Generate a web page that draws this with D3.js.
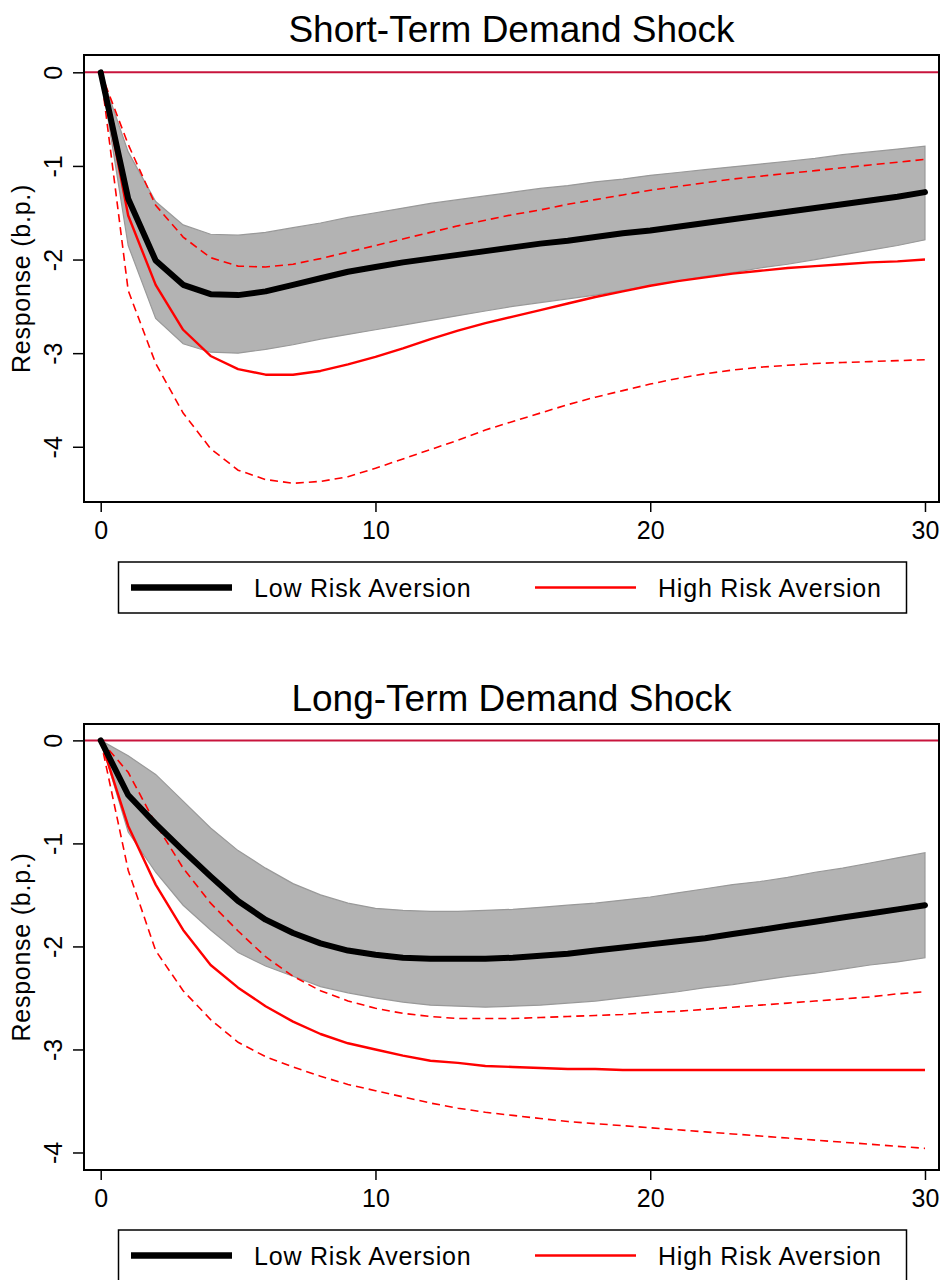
<!DOCTYPE html>
<html>
<head>
<meta charset="utf-8">
<script src="https://cdn.jsdelivr.net/npm/d3@7"></script>
<style>
  body { margin: 0; background: #fff; }
  text { font-family: "Liberation Sans", Arial, Helvetica, sans-serif; }
</style>
</head>
<body>
<svg></svg>
<script>
// horizon (months after shock)
let horizon = [0,1,2,3,4,5,6,7,8,9,10,11,12,13,14,15,16,17,18,19,20,21,22,23,24,25,26,27,28,29,30];

// short-term demand shock
let stLow     = [0,-1.35,-2.01,-2.27,-2.37,-2.38,-2.34,-2.27,-2.20,-2.13,-2.08,-2.03,-1.99,-1.95,-1.91,-1.87,-1.83,-1.80,-1.76,-1.72,-1.69,-1.65,-1.61,-1.57,-1.53,-1.49,-1.45,-1.41,-1.37,-1.33,-1.28];
let stLowUp   = [0,-0.85,-1.38,-1.63,-1.73,-1.74,-1.71,-1.66,-1.61,-1.55,-1.50,-1.45,-1.40,-1.36,-1.32,-1.28,-1.24,-1.21,-1.17,-1.14,-1.10,-1.07,-1.04,-1.01,-0.98,-0.95,-0.92,-0.88,-0.85,-0.82,-0.79];
let stLowLo   = [0,-1.85,-2.63,-2.90,-2.99,-3.00,-2.96,-2.91,-2.85,-2.80,-2.75,-2.70,-2.65,-2.60,-2.55,-2.50,-2.46,-2.42,-2.38,-2.33,-2.28,-2.23,-2.18,-2.14,-2.09,-2.05,-2.00,-1.95,-1.90,-1.85,-1.79];
let stHigh    = [0,-1.53,-2.27,-2.75,-3.03,-3.17,-3.23,-3.23,-3.19,-3.12,-3.04,-2.95,-2.85,-2.76,-2.68,-2.61,-2.54,-2.47,-2.40,-2.34,-2.28,-2.23,-2.19,-2.15,-2.12,-2.09,-2.07,-2.05,-2.03,-2.02,-2.00];
let stHighUp  = [0,-0.77,-1.42,-1.76,-1.98,-2.07,-2.08,-2.05,-1.99,-1.92,-1.85,-1.78,-1.71,-1.64,-1.58,-1.52,-1.47,-1.41,-1.36,-1.31,-1.26,-1.22,-1.18,-1.14,-1.11,-1.08,-1.05,-1.02,-0.99,-0.96,-0.93];
let stHighLo  = [0,-2.33,-3.11,-3.64,-4.02,-4.25,-4.35,-4.39,-4.37,-4.32,-4.23,-4.13,-4.03,-3.93,-3.82,-3.73,-3.64,-3.55,-3.47,-3.40,-3.33,-3.27,-3.22,-3.18,-3.15,-3.13,-3.11,-3.10,-3.09,-3.08,-3.07];

// long-term demand shock
let ltLow     = [0,-0.53,-0.81,-1.07,-1.32,-1.56,-1.74,-1.87,-1.97,-2.04,-2.08,-2.11,-2.12,-2.12,-2.12,-2.11,-2.09,-2.07,-2.04,-2.01,-1.98,-1.95,-1.92,-1.88,-1.84,-1.80,-1.76,-1.72,-1.68,-1.64,-1.60];
let ltLowUp   = [0,-0.15,-0.33,-0.59,-0.85,-1.07,-1.24,-1.39,-1.50,-1.58,-1.63,-1.65,-1.66,-1.66,-1.65,-1.64,-1.62,-1.60,-1.58,-1.55,-1.52,-1.48,-1.44,-1.40,-1.37,-1.33,-1.28,-1.24,-1.19,-1.14,-1.09];
let ltLowLo   = [0,-0.89,-1.28,-1.60,-1.84,-2.06,-2.19,-2.29,-2.39,-2.45,-2.50,-2.54,-2.57,-2.58,-2.59,-2.58,-2.57,-2.55,-2.53,-2.50,-2.47,-2.44,-2.40,-2.37,-2.33,-2.29,-2.26,-2.22,-2.18,-2.15,-2.11];
let ltHigh    = [0,-0.83,-1.40,-1.84,-2.18,-2.40,-2.58,-2.73,-2.85,-2.94,-3.00,-3.06,-3.11,-3.13,-3.16,-3.17,-3.18,-3.19,-3.19,-3.20,-3.20,-3.20,-3.20,-3.20,-3.20,-3.20,-3.20,-3.20,-3.20,-3.20,-3.20];
let ltHighUp  = [0,-0.31,-0.81,-1.24,-1.58,-1.85,-2.10,-2.29,-2.43,-2.53,-2.60,-2.65,-2.68,-2.70,-2.70,-2.70,-2.69,-2.68,-2.67,-2.66,-2.64,-2.63,-2.61,-2.59,-2.57,-2.55,-2.53,-2.51,-2.49,-2.46,-2.44];
let ltHighLo  = [0,-1.26,-2.04,-2.43,-2.71,-2.93,-3.07,-3.17,-3.26,-3.34,-3.40,-3.46,-3.52,-3.57,-3.61,-3.64,-3.67,-3.70,-3.72,-3.74,-3.76,-3.78,-3.80,-3.82,-3.84,-3.86,-3.88,-3.90,-3.92,-3.94,-3.96];

let xTicks = [0, 10, 20, 30];
let yTicks = [0, -1, -2, -3, -4];
let titles = ["Short-Term Demand Shock", "Long-Term Demand Shock"];
let yLabel = "Response (b.p.)";
let legendLabels = ["Low Risk Aversion", "High Risk Aversion"];

let width = 943;
let height = 1280;
let left = 84;
let right = 939;

let svg = d3.select("svg").attr("width", width).attr("height", height);

let xScale = d3.scaleLinear().domain([-0.608, 30.51]).range([left, right]);

let drawPanel = (p) => {
    let yScale = d3.scaleLinear().domain(p.yDomain).range([p.bottom, p.top]);
    let g = svg.append("g");

    let pts = (arr) => horizon.map((t, i) => [t, arr[i]]);
    let line = d3.line().x(d => xScale(d[0])).y(d => yScale(d[1]));
    let area = d3.area()
        .x(d => xScale(d[0]))
        .y0(d => yScale(d[1]))
        .y1(d => yScale(d[2]));

    // title
    g.append("text")
        .attr("x", (left + right) / 2)
        .attr("y", p.top - 13.3)
        .attr("text-anchor", "middle")
        .style("font-size", "37px")
        .text(p.title);

    // zero line
    g.append("line")
        .attr("x1", left).attr("x2", right)
        .attr("y1", yScale(0)).attr("y2", yScale(0))
        .attr("stroke", "#c8143c")
        .attr("stroke-width", 2);

    // confidence band (low risk aversion)
    g.append("path")
        .datum(horizon.map((t, i) => [t, p.lowLo[i], p.lowUp[i]]))
        .attr("d", area)
        .attr("fill", "#b3b3b3")
        .attr("stroke", "#999999")
        .attr("stroke-width", 1.2);

    // high risk aversion bands
    [p.highUp, p.highLo].forEach((arr) => {
        g.append("path")
            .datum(pts(arr))
            .attr("d", line)
            .attr("fill", "none")
            .attr("stroke", "#ff0000")
            .attr("stroke-width", 1.6)
            .attr("stroke-dasharray", "8,5");
    });

    g.append("path")
        .datum(pts(p.high))
        .attr("d", line)
        .attr("fill", "none")
        .attr("stroke", "#ff0000")
        .attr("stroke-width", 2.4)
        .attr("stroke-linejoin", "round");

    g.append("path")
        .datum(pts(p.low))
        .attr("d", line)
        .attr("fill", "none")
        .attr("stroke", "#000")
        .attr("stroke-width", 6)
        .attr("stroke-linejoin", "round")
        .attr("stroke-linecap", "round");

    // frame
    g.append("rect")
        .attr("x", left).attr("y", p.top)
        .attr("width", right - left).attr("height", p.bottom - p.top)
        .attr("fill", "none")
        .attr("stroke", "#000")
        .attr("stroke-width", 2);

    // axes
    let yAxis = d3.axisLeft(yScale).tickValues(yTicks).tickSize(11).tickFormat(d => String(d));
    let ya = g.append("g").attr("transform", "translate(" + left + ",0)").call(yAxis);
    ya.select(".domain").remove();
    ya.selectAll(".tick line").attr("stroke", "#000").attr("stroke-width", 1.5);
    ya.selectAll(".tick text")
        .attr("transform", "rotate(-90)")
        .attr("x", 0)
        .attr("y", -22)
        .attr("dy", 0)
        .attr("text-anchor", "middle")
        .style("font-size", "25px")
        .attr("fill", "#000");

    let xAxis = d3.axisBottom(xScale).tickValues(xTicks).tickSize(10);
    let xa = g.append("g").attr("transform", "translate(0," + p.bottom + ")").call(xAxis);
    xa.select(".domain").remove();
    xa.selectAll(".tick line").attr("stroke", "#000").attr("stroke-width", 1.5);
    xa.selectAll(".tick text")
        .attr("y", 37)
        .attr("dy", 0)
        .style("font-size", "25px")
        .attr("fill", "#000");

    // y label
    g.append("text")
        .attr("transform", "translate(30," + ((p.top + p.bottom) / 2) + ") rotate(-90)")
        .attr("text-anchor", "middle")
        .style("font-size", "25px")
        .style("letter-spacing", "0.75px")
        .text(yLabel);

    // legend
    let ly = p.bottom + 60;
    g.append("rect")
        .attr("x", 118.5).attr("y", ly)
        .attr("width", 788).attr("height", 51)
        .attr("fill", "#fff")
        .attr("stroke", "#000")
        .attr("stroke-width", 1.5);

    let keys = [
        { x1: 131, x2: 232, tx: 254, color: "#000", w: 6.5 },
        { x1: 535, x2: 636, tx: 658, color: "#ff0000", w: 2.5 }
    ];
    keys.forEach((k, i) => {
        g.append("line")
            .attr("x1", k.x1).attr("x2", k.x2)
            .attr("y1", ly + 25.5).attr("y2", ly + 25.5)
            .attr("stroke", k.color)
            .attr("stroke-width", k.w);
        g.append("text")
            .attr("x", k.tx)
            .attr("y", ly + 34.5)
            .style("font-size", "25px")
            .style("letter-spacing", "0.8px")
            .text(legendLabels[i]);
    });
};

drawPanel({
    title: titles[0], top: 55, bottom: 502, yDomain: [-4.59, 0.185],
    low: stLow, lowUp: stLowUp, lowLo: stLowLo,
    high: stHigh, highUp: stHighUp, highLo: stHighLo
});

drawPanel({
    title: titles[1], top: 724, bottom: 1170, yDomain: [-4.17, 0.159],
    low: ltLow, lowUp: ltLowUp, lowLo: ltLowLo,
    high: ltHigh, highUp: ltHighUp, highLo: ltHighLo
});
</script>
</body>
</html>
